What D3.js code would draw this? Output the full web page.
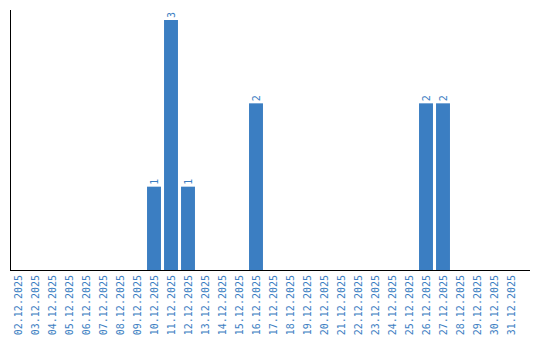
<!DOCTYPE html>
<html>
<head>
<meta charset="utf-8">
<script src="https://cdn.jsdelivr.net/npm/d3@7"></script>
<style>
  body { margin: 0; background: #fff; }
  text { font-family: "DejaVu Sans Mono", "Liberation Mono", monospace; }
</style>
</head>
<body>
<div class="board"></div>
<script>
var days = ['02.12.2025','03.12.2025','04.12.2025','05.12.2025','06.12.2025','07.12.2025',
  '08.12.2025','09.12.2025','10.12.2025','11.12.2025','12.12.2025','13.12.2025','14.12.2025',
  '15.12.2025','16.12.2025','17.12.2025','18.12.2025','19.12.2025','20.12.2025','21.12.2025',
  '22.12.2025','23.12.2025','24.12.2025','25.12.2025','26.12.2025','27.12.2025','28.12.2025',
  '29.12.2025','30.12.2025','31.12.2025'];
var counts = [0,0,0,0,0,0,0,0,1,3,1,0,0,0,2,0,0,0,0,0,0,0,0,0,2,2,0,0,0,0];

var blue = '#3b7ec2';

var svg = d3.select('.board').append('svg')
            .attr('width', 540)
            .attr('height', 340);

var x = d3.scaleBand()
          .domain(days)
          .range([9.5, 519.5])
          .paddingInner(0.18)
          .paddingOuter(0.09);

var y = d3.scaleLinear()
          .domain([0, 3])
          .range([270, 20]);

// axes lines
svg.append('line')
   .attr('x1', 10.5).attr('x2', 10.5)
   .attr('y1', 10).attr('y2', 270)
   .attr('stroke', '#000');
svg.append('line')
   .attr('x1', 10).attr('x2', 530)
   .attr('y1', 270.5).attr('y2', 270.5)
   .attr('stroke', '#000');

var data = days.map(function(d, i) { return {day: d, n: counts[i]}; });

svg.selectAll('rect.bar')
   .data(data.filter(function(d) { return d.n > 0; }))
   .enter()
   .append('rect')
   .attr('class', 'bar')
   .attr('fill', blue)
   .attr('x', function(d) { return x(d.day); })
   .attr('width', x.bandwidth())
   .attr('y', function(d) { return y(d.n); })
   .attr('height', function(d) { return 270 - y(d.n); });

// value labels
svg.selectAll('text.val')
   .data(data.filter(function(d) { return d.n > 0; }))
   .enter()
   .append('text')
   .attr('class', 'val')
   .attr('fill', blue)
   .attr('font-size', 10)
   .attr('text-anchor', 'start')
   .attr('transform', function(d) {
     return 'translate(' + (x(d.day) + x.bandwidth() / 2 + 3.5) + ',' + (y(d.n) - 2) + ') rotate(-90)';
   })
   .text(function(d) { return d.n; });

// category labels
svg.selectAll('text.day')
   .data(days)
   .enter()
   .append('text')
   .attr('class', 'day')
   .attr('fill', blue)
   .attr('font-size', 10)
   .attr('text-anchor', 'end')
   .attr('transform', function(d) {
     return 'translate(' + (x(d) + x.bandwidth() / 2 + 3.5) + ',275) rotate(-90)';
   })
   .text(function(d) { return d; });
</script>
</body>
</html>
